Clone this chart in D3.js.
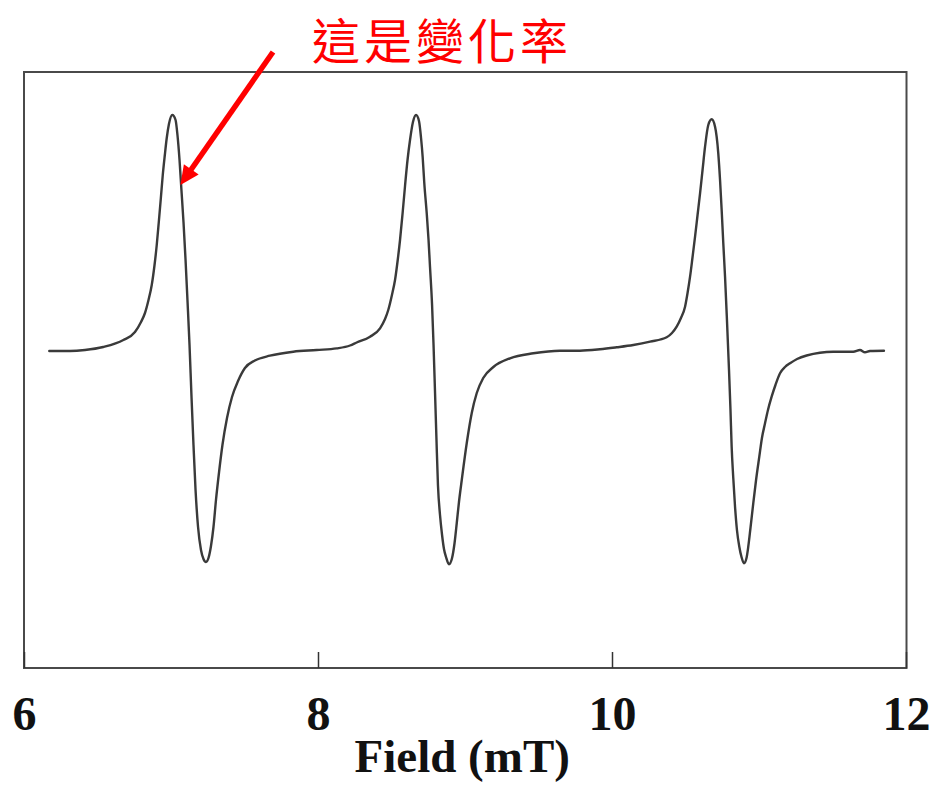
<!DOCTYPE html>
<html>
<head>
<meta charset="utf-8">
<script src="https://cdn.jsdelivr.net/npm/d3@7"></script>
<style>
  html, body { margin: 0; padding: 0; background: #fff; }
  svg { display: block; }
</style>
</head>
<body>
<svg id="chart" width="935" height="789"></svg>
<script>
// EPR first-derivative spectrum: three hyperfine lines
const field = [
  6.172, 6.313, 6.415, 6.539, 6.676, 6.755, 6.796, 6.823, 6.847, 6.869,
  6.888, 6.903, 6.917, 6.931, 6.944, 6.958, 6.971, 6.986, 7.009, 7.031,
  7.044, 7.058, 7.071, 7.085, 7.099, 7.112, 7.126, 7.139, 7.153, 7.167,
  7.184, 7.204, 7.221, 7.238, 7.255, 7.272, 7.289, 7.306, 7.327, 7.350,
  7.381, 7.415, 7.456, 7.503, 7.571, 7.673, 7.832, 7.991, 8.127, 8.218,
  8.263, 8.354, 8.422, 8.456, 8.478, 8.503, 8.524, 8.544, 8.558, 8.575,
  8.592, 8.609, 8.626, 8.646, 8.667, 8.687, 8.701, 8.712, 8.723, 8.740,
  8.752, 8.762, 8.776, 8.786, 8.796, 8.806, 8.816, 8.830, 8.844, 8.857,
  8.871, 8.891, 8.912, 8.929, 8.944, 8.959, 8.978, 9.012, 9.046, 9.080,
  9.124, 9.193, 9.306, 9.465, 9.646, 9.782, 9.918, 10.032, 10.145, 10.259,
  10.372, 10.408, 10.440, 10.469, 10.497, 10.514, 10.531, 10.548, 10.565, 10.582,
  10.599, 10.616, 10.633, 10.655, 10.678, 10.701, 10.723, 10.735, 10.746, 10.757,
  10.769, 10.782, 10.796, 10.806, 10.814, 10.825, 10.837, 10.850, 10.866, 10.881,
  10.898, 10.915, 10.927, 10.942, 10.961, 10.980, 11.002, 11.020, 11.041, 11.061,
  11.086, 11.112, 11.143, 11.177, 11.211, 11.259, 11.324, 11.505, 11.641, 11.687,
  11.721, 11.755, 11.850
];
const signal = [
  -0.01, -0.01, 0.00, 0.03, 0.10, 0.18, 0.28, 0.37, 0.50, 0.65,
  0.85, 1.05, 1.28, 1.52, 1.75, 1.95, 2.12, 2.26, 2.35, 2.30,
  2.15, 1.90, 1.60, 1.28, 0.90, 0.50, 0.05, -0.45, -0.95, -1.40,
  -1.77, -2.00, -2.09, -2.12, -2.08, -1.96, -1.77, -1.50, -1.22, -0.95,
  -0.68, -0.47, -0.31, -0.18, -0.105, -0.057, -0.017, 0.00, 0.016, 0.045,
  0.075, 0.133, 0.217, 0.31, 0.40, 0.55, 0.70, 0.92, 1.10, 1.36,
  1.64, 1.90, 2.10, 2.28, 2.35, 2.29, 2.12, 1.93, 1.67, 1.36,
  1.10, 0.83, 0.45, 0.05, -0.42, -0.90, -1.35, -1.65, -1.85, -1.99,
  -2.07, -2.143, -2.08, -1.93, -1.73, -1.52, -1.30, -0.93, -0.63, -0.43,
  -0.28, -0.17, -0.083, -0.033, -0.007, -0.007, 0.007, 0.027, 0.05, 0.083,
  0.127, 0.17, 0.233, 0.32, 0.433, 0.57, 0.733, 0.93, 1.133, 1.35,
  1.567, 1.80, 2.033, 2.25, 2.307, 2.233, 1.967, 1.70, 1.40, 1.07,
  0.733, 0.30, -0.20, -0.60, -0.967, -1.28, -1.567, -1.80, -1.967, -2.07,
  -2.133, -2.08, -1.967, -1.78, -1.533, -1.30, -1.067, -0.88, -0.733, -0.60,
  -0.467, -0.35, -0.233, -0.17, -0.133, -0.09, -0.055, -0.017, -0.017, 0.00,
  -0.023, -0.01, -0.007
];
const xTicks = [6, 8, 10, 12];
const xTitle = "Field (mT)";

// Annotation: label and arrow pointing at the falling edge of the first line
const noteText = "這是變化率";
const noteFrom = [7.694, 2.98];   // arrow tail (field, signal)
const noteTo = [7.064, 1.65];     // arrow tip (field, signal)

const svg = d3.select("#chart");
const W = 935, H = 789;
const plot = { left: 24, right: 906.5, top: 72, bottom: 668 };

svg.append("rect").attr("width", W).attr("height", H).attr("fill", "#fff");

const x = d3.scaleLinear().domain([6, 12]).range([plot.left, plot.right - 0.5]);
const y = d3.scaleLinear().domain([-3.18, 2.78]).range([plot.bottom, plot.top]);

// Frame
svg.append("rect")
  .attr("x", plot.left).attr("y", plot.top)
  .attr("width", plot.right - plot.left).attr("height", plot.bottom - plot.top)
  .attr("fill", "none").attr("stroke", "#4a4a4a").attr("stroke-width", 2);

// Bottom axis with inward ticks
const axis = svg.append("g")
  .attr("transform", `translate(0,${plot.bottom})`)
  .call(d3.axisBottom(x).tickValues(xTicks).tickFormat(d3.format("d"))
    .tickSizeInner(-16).tickSizeOuter(0).tickPadding(28));
axis.select(".domain").remove();
axis.selectAll(".tick line").attr("stroke", "#333").attr("stroke-width", 1.5);
axis.selectAll(".tick text")
  .attr("fill", "#111")
  .style("font-family", "'Liberation Serif', 'Times New Roman', serif")
  .style("font-weight", "bold")
  .style("font-size", "48px");

svg.append("text")
  .attr("x", (plot.left + plot.right) / 2 - 3)
  .attr("y", 772)
  .attr("text-anchor", "middle")
  .attr("fill", "#111")
  .style("font-family", "'Liberation Serif', 'Times New Roman', serif")
  .style("font-weight", "bold")
  .style("font-size", "47px")
  .text(xTitle);

// Spectrum trace
const pts = field.map((f, i) => [f, signal[i]]);
const line = d3.line()
  .x(d => x(d[0]))
  .y(d => y(d[1]))
  .curve(d3.curveMonotoneX);

svg.append("path")
  .datum(pts)
  .attr("d", line)
  .attr("fill", "none")
  .attr("stroke", "#3a3a3a")
  .attr("stroke-width", 2.4)
  .attr("stroke-linejoin", "round")
  .attr("stroke-linecap", "round");

// Annotation arrow
const x0 = x(noteFrom[0]), y0 = y(noteFrom[1]);
const x1 = x(noteTo[0]), y1 = y(noteTo[1]);
const len = Math.hypot(x1 - x0, y1 - y0);
const ux = (x1 - x0) / len, uy = (y1 - y0) / len;
const headLen = 19, headHalf = 9;
const bx = x1 - ux * headLen, by = y1 - uy * headLen;

svg.append("line")
  .attr("x1", x0).attr("y1", y0)
  .attr("x2", bx + ux * 2).attr("y2", by + uy * 2)
  .attr("stroke", "#ff0000").attr("stroke-width", 5.5);

svg.append("path")
  .attr("d", d3.line()([
    [x1, y1],
    [bx - uy * headHalf, by + ux * headHalf],
    [bx + uy * headHalf, by - ux * headHalf]
  ]) + "Z")
  .attr("fill", "#ff0000");

svg.append("text")
  .attr("x", 442)
  .attr("y", 59)
  .attr("text-anchor", "middle")
  .attr("fill", "#ff0000")
  .style("font-family", "'Noto Sans CJK TC', 'Noto Sans CJK SC', sans-serif")
  .style("font-size", "48px")
  .style("letter-spacing", "4px")
  .text(noteText);
</script>
</body>
</html>
